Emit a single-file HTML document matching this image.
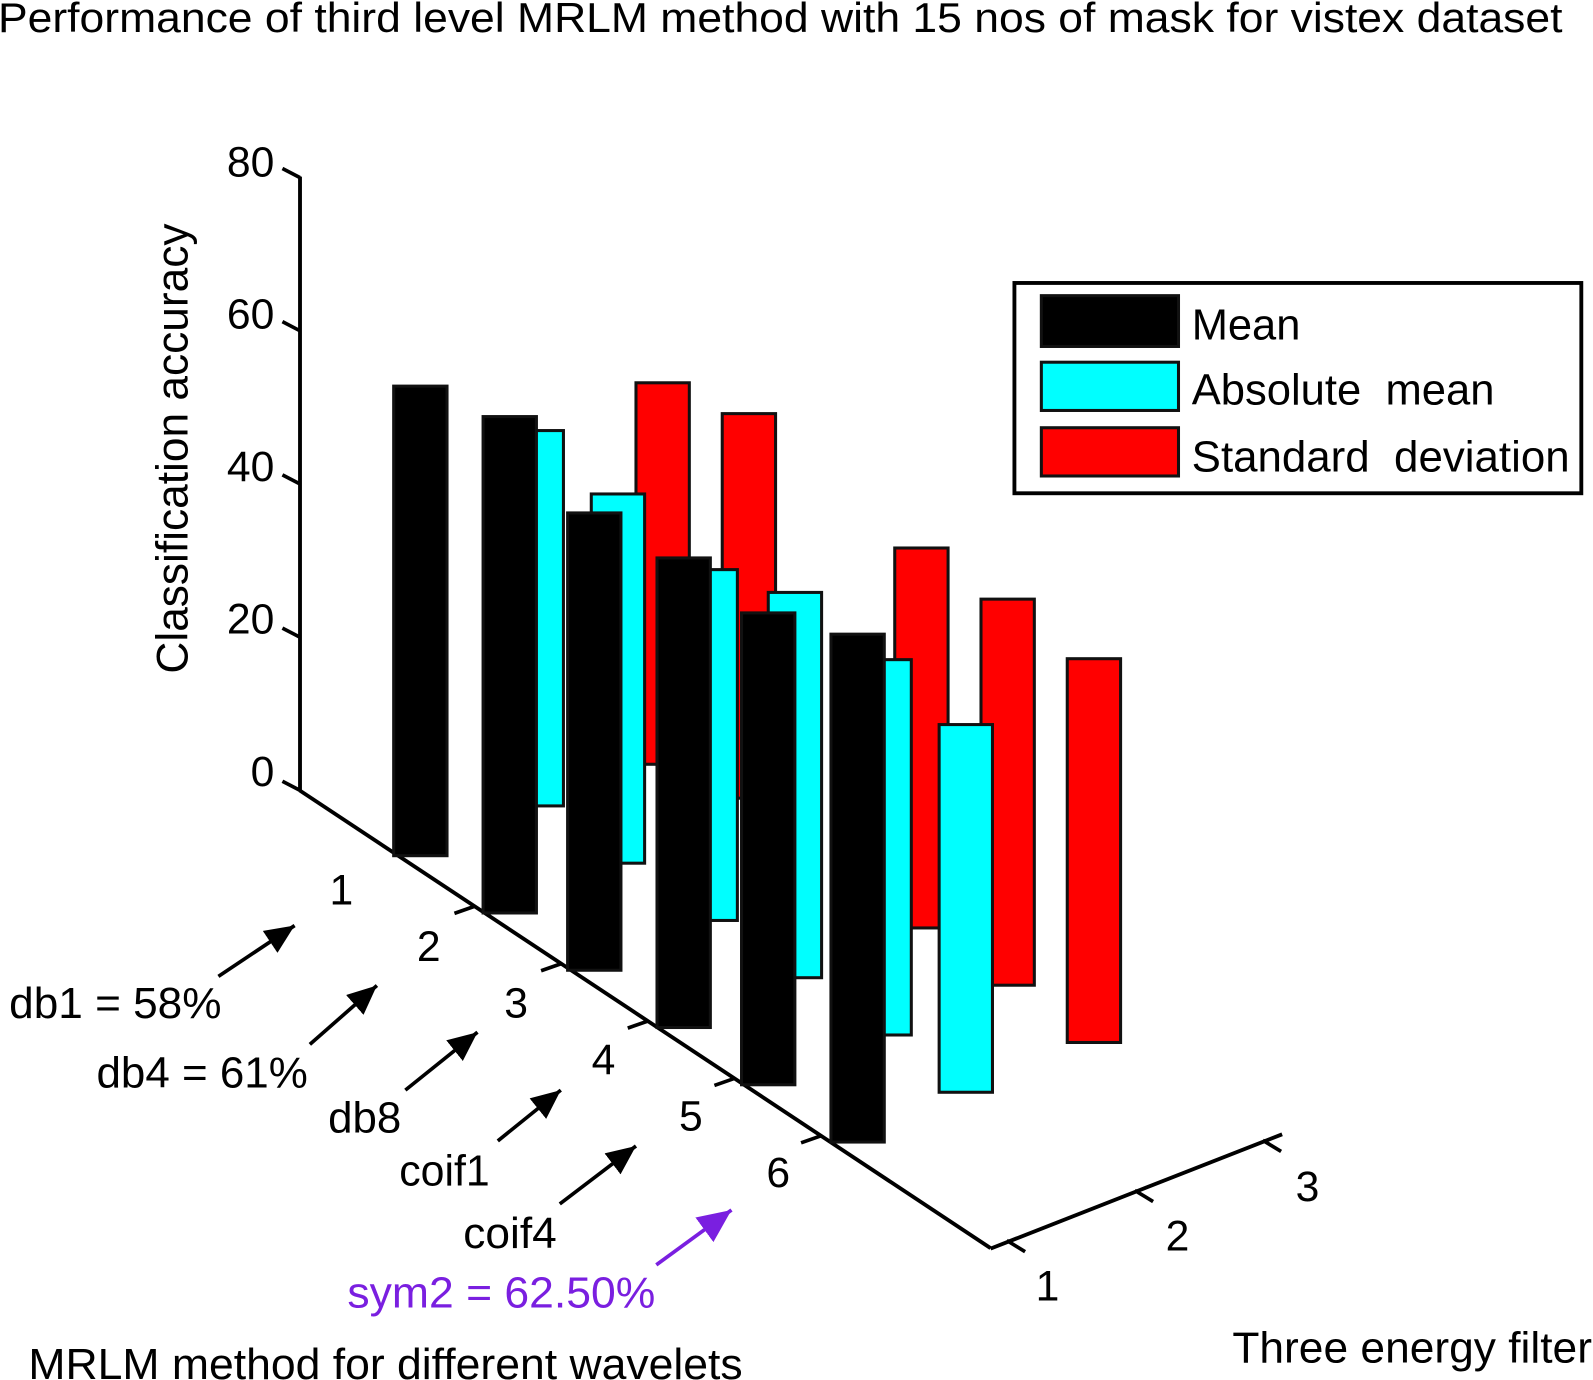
<!DOCTYPE html>
<html>
<head>
<meta charset="utf-8">
<title>Performance of third level MRLM method</title>
<style>
html,body{margin:0;padding:0;background:#fff;}
svg{display:block;}
text{font-family:"Liberation Sans",Arial,sans-serif;fill:#000;}
</style>
</head>
<body>
<svg id="chart" xmlns="http://www.w3.org/2000/svg" width="1593" height="1380" viewBox="0 0 1568 1358.3">
<defs>
<marker id="head-black" markerUnits="userSpaceOnUse" markerWidth="32" markerHeight="30" refX="29" refY="13" orient="auto"><path d="M0,0 L29,13 L0,26 Z" fill="#000"/></marker>
<marker id="head-purple" markerUnits="userSpaceOnUse" markerWidth="36" markerHeight="34" refX="33" refY="15" orient="auto"><path d="M0,0 L33,15 L0,30 Z" fill="#7a1fe0"/></marker>
</defs>
<rect x="0" y="0" width="1568" height="1359" fill="#fff"/>
<text x="-2" y="31.5" font-size="41" textLength="1540" lengthAdjust="spacingAndGlyphs">Performance of third level MRLM method with 15 nos of mask for vistex dataset</text>
<text x="184.5" y="663" font-size="43.5" textLength="443" lengthAdjust="spacingAndGlyphs" transform="rotate(-90 184.5 663)">Classification accuracy</text>

<g id="axes"></g>
<g id="bars"></g>

<g>
<rect x="998.5" y="278.5" width="558" height="207" fill="#fff" stroke="#000" stroke-width="3.8"/>
<rect x="1025" y="291" width="135" height="50" fill="#000" stroke="#111" stroke-width="3"/>
<rect x="1025" y="356.5" width="135" height="47.5" fill="#0ff" stroke="#111" stroke-width="3"/>
<rect x="1025" y="421" width="135" height="47.5" fill="#f00" stroke="#111" stroke-width="3"/>
<text x="1173" y="334" font-size="43" textLength="107" lengthAdjust="spacingAndGlyphs">Mean</text>
<text x="1173" y="398" font-size="43" textLength="298" lengthAdjust="spacingAndGlyphs">Absolute&#160;&#160;mean</text>
<text x="1173" y="464" font-size="43" textLength="372" lengthAdjust="spacingAndGlyphs">Standard&#160;&#160;deviation</text>
</g>

<g>
<line x1="215" y1="961" x2="290" y2="911" stroke="#000" stroke-width="3.6" marker-end="url(#head-black)"/>
<line x1="305" y1="1028" x2="371" y2="970" stroke="#000" stroke-width="3.6" marker-end="url(#head-black)"/>
<line x1="399" y1="1073" x2="470" y2="1016" stroke="#000" stroke-width="3.6" marker-end="url(#head-black)"/>
<line x1="490" y1="1123" x2="552" y2="1073" stroke="#000" stroke-width="3.6" marker-end="url(#head-black)"/>
<line x1="551" y1="1185" x2="626" y2="1128" stroke="#000" stroke-width="3.6" marker-end="url(#head-black)"/>
<line x1="646" y1="1245" x2="720" y2="1191" stroke="#7a1fe0" stroke-width="3.6" marker-end="url(#head-purple)"/>
<text x="9" y="1002" font-size="43" textLength="209" lengthAdjust="spacingAndGlyphs">db1 = 58%</text>
<text x="95" y="1070.5" font-size="43" textLength="208" lengthAdjust="spacingAndGlyphs">db4 = 61%</text>
<text x="323" y="1114.5" font-size="43" textLength="72" lengthAdjust="spacingAndGlyphs">db8</text>
<text x="393" y="1167" font-size="43" textLength="89" lengthAdjust="spacingAndGlyphs">coif1</text>
<text x="456" y="1228.5" font-size="43" textLength="92" lengthAdjust="spacingAndGlyphs">coif4</text>
<text x="342" y="1287" font-size="43" textLength="303" lengthAdjust="spacingAndGlyphs" style="fill:#7a1fe0">sym2 = 62.50%</text>
</g>

<text x="28" y="1357.5" font-size="43" textLength="703" lengthAdjust="spacingAndGlyphs">MRLM method for different wavelets</text>
<text x="1213" y="1341" font-size="43" textLength="354" lengthAdjust="spacingAndGlyphs">Three energy filter</text>
</svg>

<script>
const categories = ['1', '2', '3', '4', '5', '6'];
const filterLabels = ['1', '2', '3'];
const valueTicks = [0, 20, 40, 60, 80];
const meanValues = [61.3, 64.8, 59.7, 61.3, 61.6, 66.3];
const absoluteMeanValues = [49.0, 48.2, 45.8, 50.3, 49.0, 48.0];
const standardDeviationValues = [49.8, 50.2, null, 49.6, 50.4, 50.1];

const NS = 'http://www.w3.org/2000/svg';
const axesLayer = document.getElementById('axes');
const barsLayer = document.getElementById('bars');

// Projection of the 3D axes onto the page
function valueScale(v) { return v * 7.54; }
function valueAxisY(v) { return 778 - valueScale(v); }
function valueLabelY(v) { return 773.5 - v * 7.5; }
function barXWobble(cat, filter) {
  if (filter === 1) return cat % 2 ? 1.2 : -1.2;
  if (filter === 2) return cat % 2 ? (cat === 3 ? 0 : -3) : 2.7;
  return 1.8 - 0.7 * cat;
}
function barX(cat, filter) {
  const f = filter - 1;
  return 388.7 + cat * 85.6 + 110.7 * f + 7.05 * f * (f - 1) + barXWobble(cat, filter);
}
function barBaseNudge(cat, filter) {
  if (filter !== 3) return 0;
  if (cat === 0) return 8;
  if (cat === 1) return -15;
  return 0;
}
function barBaseY(cat, filter) {
  return 842.25 + cat * 56.37 - 49 * (filter - 1) + barBaseNudge(cat, filter);
}
function catAxisX(cat) { return 382 + cat * 85.3; }
function catAxisY(cat) { return 778 + (catAxisX(cat) - 295) * 0.6618; }
function filterAxisX(f) { return 1009 + f * 126; }
function filterAxisY(f) { return 1220 - f * 49.3; }

function makeLine(x1, y1, x2, y2, w) {
  const l = document.createElementNS(NS, 'line');
  l.setAttribute('x1', x1);
  l.setAttribute('y1', y1);
  l.setAttribute('x2', x2);
  l.setAttribute('y2', y2);
  l.setAttribute('stroke', '#000');
  l.setAttribute('stroke-width', w);
  return l;
}
function makeText(str, x, y, anchor) {
  const t = document.createElementNS(NS, 'text');
  t.setAttribute('x', x);
  t.setAttribute('y', y);
  t.setAttribute('font-size', 42);
  t.setAttribute('text-anchor', anchor);
  t.textContent = str;
  return t;
}

// Value axis
const valueAxisLine = makeLine(295.3, valueAxisY(80) - 1, 295.3, valueAxisY(0), 3.8);


axesLayer.appendChild(valueAxisLine);
valueTicks.forEach(function (v) {
  const y = valueAxisY(v);
  const tick = makeLine(278, y - 9, 295.3, y, 3.6);
  
  
  axesLayer.appendChild(tick);
  const label = makeText(String(v), 270, valueLabelY(v), 'end');
  
  
  axesLayer.appendChild(label);
});

// Category axis
const categoryAxisLine = makeLine(295, 778, 975, 1228.5, 3.8);


axesLayer.appendChild(categoryAxisLine);
categories.forEach(function (c, i) {
  if (i > 0) {
    const x = catAxisX(i);
    const y = catAxisY(i);
    const tick = makeLine(x - 20, y + 7, x, y, 3.6);
    
    
    axesLayer.appendChild(tick);
  }
  const label = makeText(c, 336 + i * 86, 890.5 + i * 55.6, 'middle');
  
  
  axesLayer.appendChild(label);
});

// Filter axis
const filterAxisLine = makeLine(975, 1229, 1262, 1116.5, 3.8);


axesLayer.appendChild(filterAxisLine);
filterLabels.forEach(function (c, f) {
  const x = filterAxisX(f);
  const y = filterAxisY(f);
  const tick = makeLine(x - 18, y + 1, x, y + 12, 3.6);
  
  
  axesLayer.appendChild(tick);
  const label = makeText(c, 1031 + f * 128, 1280 - f * 49, 'middle');
  
  
  axesLayer.appendChild(label);
});

// Bars, painted back to front
function drawSeries(values, filter, fill) {
  values.forEach(function (v, i) {
    if (v === null) return;
    const h = valueScale(v);
    const base = barBaseY(i, filter);
    const r = document.createElementNS(NS, 'rect');
    r.setAttribute('x', barX(i, filter));
    r.setAttribute('y', base - h);
    r.setAttribute('width', 52.5);
    r.setAttribute('height', h);
    r.setAttribute('fill', fill);
    r.setAttribute('stroke', '#111');
    r.setAttribute('stroke-width', 3);
    
    
    barsLayer.appendChild(r);
  });
}
drawSeries(standardDeviationValues, 3, '#ff0000');
drawSeries(absoluteMeanValues, 2, '#00ffff');
drawSeries(meanValues, 1, '#000000');
</script>
</body>
</html>
